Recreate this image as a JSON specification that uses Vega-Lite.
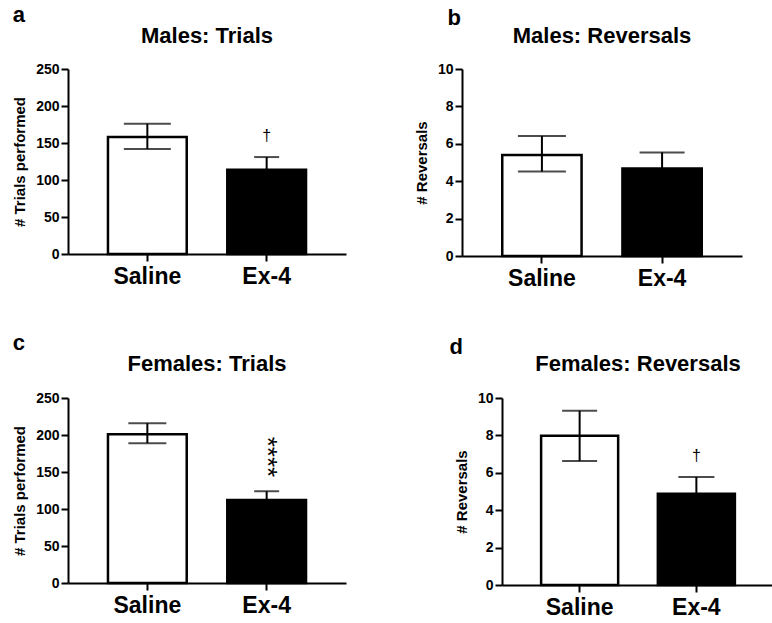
{
  "$schema": "https://vega.github.io/schema/vega-lite/v6.json",
  "background": "white",
  "padding": {"left": 12, "top": 4, "right": 0, "bottom": 0},
  "config": {
    "font": "Liberation Sans",
    "view": {"stroke": null},
    "axis": {"grid": false, "domainColor": "black", "domainWidth": 2, "tickColor": "black", "tickWidth": 2, "tickSize": 7, "labelColor": "black", "titleColor": "black", "labelFontWeight": "bold", "titleFontWeight": "bold", "labelOverlap": false, "labelFlush": false},
    "axisX": {"labelFontSize": 23, "labelAngle": 0, "labelPadding": 4, "title": null},
    "axisY": {"labelFontSize": 14, "labelPadding": 2, "titleFontSize": 15, "titlePadding": 8},
    "title": {"font": "Liberation Sans", "fontSize": 22, "fontWeight": "bold", "color": "black"},
    "concat": {"spacing": 0}
  },
  "spacing": 41,
  "vconcat": [
    {
      "spacing": 68,
      "hconcat": [
        {
          "title": {"text": "a", "anchor": "start", "offset": -2},
          "vconcat": [
            {
              "title": {"text": "Males: Trials", "frame": "group", "offset": 14},
              "width": 278, "height": 185,
              "data": {"values": [
                {"group": "Saline", "mean": 158, "upper": 176, "lower": 142, "sig": ""},
                {"group": "Ex-4", "mean": 114, "upper": 131, "lower": 97, "sig": "†"}
              ]},
              "encoding": {
                "x": {"field": "group", "type": "nominal", "sort": ["Saline", "Ex-4"], "scale": {"paddingInner": 0.34, "paddingOuter": 0.335}}
              },
              "layer": [
                {"mark": {"type": "bar", "stroke": "black", "strokeWidth": 2.5},
                 "encoding": {"y": {"field": "mean", "type": "quantitative", "scale": {"domain": [0, 250], "nice": false}, "axis": {"values": [0, 50, 100, 150, 200, 250], "tickCount": 6, "labelOverlap": false, "title": "# Trials performed"}},
                   "fill": {"condition": {"test": "datum.group === 'Saline'", "value": "white"}, "value": "black"}}},
                {"mark": {"type": "rule", "color": "black", "strokeWidth": 2}, "encoding": {"y": {"field": "lower", "type": "quantitative"}, "y2": {"field": "upper"}}},
                {"mark": {"type": "tick", "color": "black", "thickness": 2}, "encoding": {"y": {"field": "upper", "type": "quantitative"}, "size": {"condition": {"test": "datum.group === 'Saline'", "value": 47}, "value": 25}}},
                {"mark": {"type": "tick", "color": "black", "thickness": 2}, "encoding": {"y": {"field": "lower", "type": "quantitative"}, "size": {"condition": {"test": "datum.group === 'Saline'", "value": 47}, "value": 25}}},
                {"transform": [{"filter": "datum.sig !== ''"}], "mark": {"type": "text", "fontSize": 16, "baseline": "bottom", "dy": -13, "color": "black"}, "encoding": {"y": {"field": "upper", "type": "quantitative"}, "text": {"field": "sig"}}}
              ]
            }
          ]
        },
        {
          "title": {"text": "b", "anchor": "start", "offset": -4.5, "dx": 33},
          "vconcat": [
            {
              "title": {"text": "Males: Reversals", "frame": "group", "offset": 14},
              "width": 280, "height": 187,
              "data": {"values": [
                {"group": "Saline", "mean": 5.4, "upper": 6.42, "lower": 4.52, "sig": ""},
                {"group": "Ex-4", "mean": 4.68, "upper": 5.54, "lower": 3.82, "sig": ""}
              ]},
              "encoding": {
                "x": {"field": "group", "type": "nominal", "sort": ["Saline", "Ex-4"], "scale": {"paddingInner": 0.34, "paddingOuter": 0.335}}
              },
              "layer": [
                {"mark": {"type": "bar", "stroke": "black", "strokeWidth": 2.5},
                 "encoding": {"y": {"field": "mean", "type": "quantitative", "scale": {"domain": [0, 10], "nice": false}, "axis": {"values": [0, 2, 4, 6, 8, 10], "tickCount": 6, "labelOverlap": false, "title": "# Reversals"}},
                   "fill": {"condition": {"test": "datum.group === 'Saline'", "value": "white"}, "value": "black"}}},
                {"mark": {"type": "rule", "color": "black", "strokeWidth": 2}, "encoding": {"y": {"field": "lower", "type": "quantitative"}, "y2": {"field": "upper"}}},
                {"mark": {"type": "tick", "color": "black", "thickness": 2}, "encoding": {"y": {"field": "upper", "type": "quantitative"}, "size": {"condition": {"test": "datum.group === 'Saline'", "value": 48}, "value": 45}}},
                {"mark": {"type": "tick", "color": "black", "thickness": 2}, "encoding": {"y": {"field": "lower", "type": "quantitative"}, "size": {"condition": {"test": "datum.group === 'Saline'", "value": 48}, "value": 45}}}
              ]
            }
          ]
        }
      ]
    },
    {
      "spacing": 103,
      "hconcat": [
        {
          "title": {"text": "c", "anchor": "start", "offset": -1.5},
          "vconcat": [
            {
              "title": {"text": "Females: Trials", "frame": "group", "offset": 15},
              "width": 278, "height": 185,
              "data": {"values": [
                {"group": "Saline", "mean": 201, "upper": 216, "lower": 189, "sig": ""},
                {"group": "Ex-4", "mean": 112, "upper": 124, "lower": 100, "sig": "****"}
              ]},
              "encoding": {
                "x": {"field": "group", "type": "nominal", "sort": ["Saline", "Ex-4"], "scale": {"paddingInner": 0.34, "paddingOuter": 0.335}}
              },
              "layer": [
                {"mark": {"type": "bar", "stroke": "black", "strokeWidth": 2.5},
                 "encoding": {"y": {"field": "mean", "type": "quantitative", "scale": {"domain": [0, 250], "nice": false}, "axis": {"values": [0, 50, 100, 150, 200, 250], "tickCount": 6, "labelOverlap": false, "title": "# Trials performed"}},
                   "fill": {"condition": {"test": "datum.group === 'Saline'", "value": "white"}, "value": "black"}}},
                {"mark": {"type": "rule", "color": "black", "strokeWidth": 2}, "encoding": {"y": {"field": "lower", "type": "quantitative"}, "y2": {"field": "upper"}}},
                {"mark": {"type": "tick", "color": "black", "thickness": 2}, "encoding": {"y": {"field": "upper", "type": "quantitative"}, "size": {"condition": {"test": "datum.group === 'Saline'", "value": 38}, "value": 25}}},
                {"mark": {"type": "tick", "color": "black", "thickness": 2}, "encoding": {"y": {"field": "lower", "type": "quantitative"}, "size": {"condition": {"test": "datum.group === 'Saline'", "value": 38}, "value": 25}}},
                {"transform": [{"filter": "datum.sig !== ''"}], "mark": {"type": "text", "fontSize": 26, "angle": 90, "align": "right", "baseline": "middle", "dx": -14, "color": "black"}, "encoding": {"y": {"field": "upper", "type": "quantitative"}, "text": {"field": "sig"}}}
              ]
            }
          ]
        },
        {
          "title": {"text": "d", "anchor": "start", "offset": -5.5, "dx": -5},
          "vconcat": [
            {
              "title": {"text": "Females: Reversals", "frame": "group", "offset": 15},
              "width": 272, "height": 187,
              "data": {"values": [
                {"group": "Saline", "mean": 7.98, "upper": 9.32, "lower": 6.63, "sig": ""},
                {"group": "Ex-4", "mean": 4.88, "upper": 5.78, "lower": 3.98, "sig": "†"}
              ]},
              "encoding": {
                "x": {"field": "group", "type": "nominal", "sort": ["Saline", "Ex-4"], "scale": {"paddingInner": 0.34, "paddingOuter": 0.335}}
              },
              "layer": [
                {"mark": {"type": "bar", "stroke": "black", "strokeWidth": 2.5},
                 "encoding": {"y": {"field": "mean", "type": "quantitative", "scale": {"domain": [0, 10], "nice": false}, "axis": {"values": [0, 2, 4, 6, 8, 10], "tickCount": 6, "labelOverlap": false, "title": "# Reversals"}},
                   "fill": {"condition": {"test": "datum.group === 'Saline'", "value": "white"}, "value": "black"}}},
                {"mark": {"type": "rule", "color": "black", "strokeWidth": 2}, "encoding": {"y": {"field": "lower", "type": "quantitative"}, "y2": {"field": "upper"}}},
                {"mark": {"type": "tick", "color": "black", "thickness": 2}, "encoding": {"y": {"field": "upper", "type": "quantitative"}, "size": {"condition": {"test": "datum.group === 'Saline'", "value": 35}, "value": 36}}},
                {"mark": {"type": "tick", "color": "black", "thickness": 2}, "encoding": {"y": {"field": "lower", "type": "quantitative"}, "size": {"condition": {"test": "datum.group === 'Saline'", "value": 35}, "value": 36}}},
                {"transform": [{"filter": "datum.sig !== ''"}], "mark": {"type": "text", "fontSize": 16, "baseline": "bottom", "dy": -13, "color": "black"}, "encoding": {"y": {"field": "upper", "type": "quantitative"}, "text": {"field": "sig"}}}
              ]
            }
          ]
        }
      ]
    }
  ]
}
